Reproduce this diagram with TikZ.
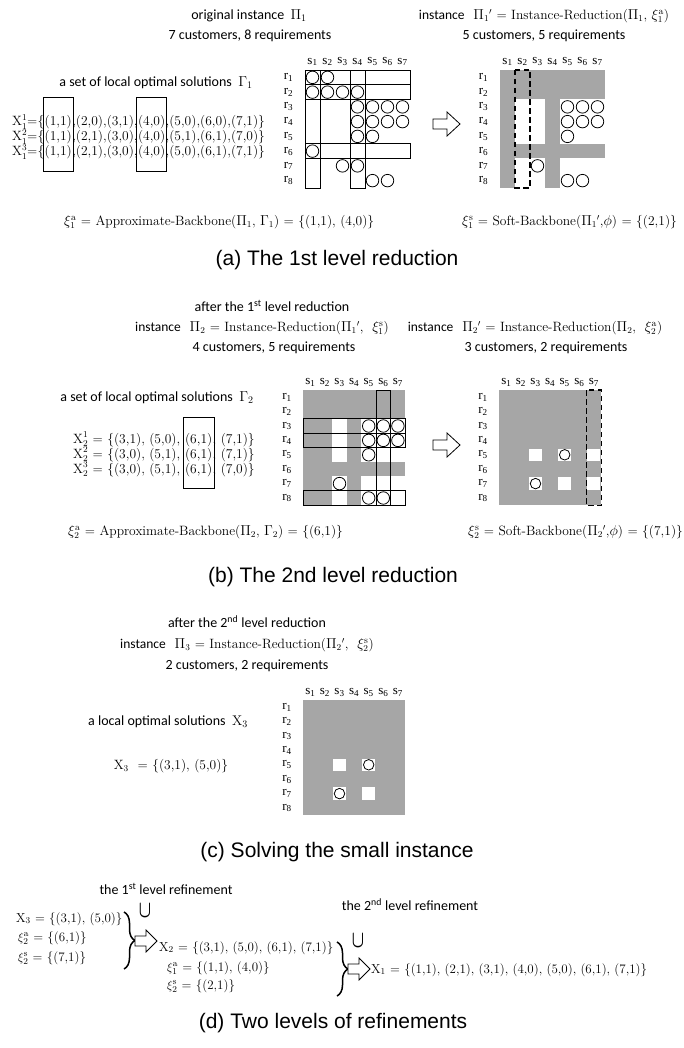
\documentclass[tikz,border=0pt]{standalone}
\usepackage{fontspec}
\usepackage{graphicx}
\usetikzlibrary{calc,decorations.pathreplacing}
\newfontfamily\carl{Carlito}
\newfontfamily\arl{Liberation Sans}
\newfontfamily\tms{Liberation Serif}
\definecolor{cellgray}{RGB}{166,166,166}
\tikzset{
  lbl/.style={font=\carl\fontsize{14}{16}\selectfont, inner sep=0pt},
  frm/.style={font=\fontsize{13.5}{16}\selectfont, inner sep=0pt},
  frd/.style={font=\fontsize{13}{15}\selectfont, inner sep=0pt},
  capt/.style={font=\arl\fontsize{21}{24}\selectfont, inner sep=0pt},
  gl/.style={font=\tms\fontsize{13}{15}\selectfont, inner sep=0pt},
  cbox/.style={draw=black, line width=0.9pt},
  dbox/.style={draw=black, line width=1.1pt, dash pattern=on 5.5pt off 3.5pt},
  circA/.style={draw=black, line width=0.8pt, circle, minimum size=12.5pt, inner sep=0pt},
  circB/.style={draw=black, line width=0.8pt, circle, minimum size=10.5pt, inner sep=0pt},
  curly/.style={draw=black, line width=1.5pt, decorate, decoration={brace, amplitude=11pt}},
  cupsym/.style={inner sep=0pt},
  blockarrow/.pic={\draw[line width=0.8pt, fill=white] (0,-5)--(14,-5)--(14,-12)--(27,0)--(14,12)--(14,5)--(0,5)--cycle;},
  smallarrow/.pic={\draw[line width=0.8pt, fill=white] (0,-5)--(11,-5)--(11,-11)--(22,0)--(11,11)--(11,5)--(0,5)--cycle;},
}
\newcommand{\gridlabels}[1]{%
  \foreach \i in {1,...,7} {\node[gl] (#1s\i) at (\i-0.5,-0.55) {s\textsubscript{\i}};}
  \foreach \j in {1,...,8} {\node[gl] (#1r\j) at (-1.1,\j-0.5) {r\textsubscript{\j}};}
}
\newcommand{\gridcircles}[3]{%
  \foreach \c/\r in {#3} {\node[#2] (#1c\c\r) at (\c-0.5,\r-0.5) {};}
}
\newcommand{\Xpart}[2]{$\mathrm{X}_{#1}^{#2}$}
\newcommand{\bigcupsym}{\scalebox{1.6}[2.4]{\boldmath$\cup$}}
\begin{document}
\begin{tikzpicture}[x=1pt, y=-1pt]
\useasboundingbox (0,0) rectangle (683,1048);
\fill[white] (0,0) rectangle (683,1048);

%% ---------------- (a) ----------------
\node[lbl] (hA1) at (249,16) {original instance\ \ $\Pi_1$};
\node[lbl] (hA2) at (250,36) {7 customers, 8 requirements};
\node[frm] (hA3) at (544,16) {{\carl instance}\ \ $\Pi_1{}'$ = Instance-Reduction($\Pi_1$, $\xi_1^{\mathrm{a}}$)};
\node[lbl] (hA4) at (544,36) {5 customers, 5 requirements};

\begin{scope}[shift={(305,70)}, x=15pt, y=-14.75pt]
  \gridlabels{gA}
  \gridcircles{gA}{circA}{1/1,2/1,1/2,2/2,3/2,4/2,4/3,5/3,6/3,7/3,4/4,5/4,6/4,7/4,4/5,5/5,1/6,3/7,4/7,5/8,6/8}
  \draw[cbox] (0,0) rectangle (7,1);
  \draw[cbox] (0,1) rectangle (7,2);
  \draw[cbox] (0,0) rectangle (1,8);
  \draw[cbox] (3,0) rectangle (4,8);
  \draw[cbox] (0,5) rectangle (7,6);
\end{scope}

\pic (arrA) at (433,124) {blockarrow};

\begin{scope}[shift={(500,70)}, x=15pt, y=-14.75pt]
  \fill[cellgray] (0,0) rectangle (7,2);
  \fill[cellgray] (0,5) rectangle (7,6);
  \fill[cellgray] (0,0) rectangle (1,8);
  \fill[cellgray] (3,0) rectangle (4,8);
  \gridlabels{gB}
  \gridcircles{gB}{circA}{5/3,6/3,7/3,5/4,6/4,7/4,5/5,3/7,5/8,6/8}
  \draw[dbox] (1,0) rectangle (2,8);
\end{scope}

\node[lbl] (solA) at (156,83) {a set of local optimal solutions\ \ $\Gamma_1$};
\node[frm, anchor=base west] (xa1p) at (12,126) {\Xpart{1}{1}=\{};
\node[frm, anchor=base west] (xa1b) at (xa1p.base east) {(1,1)};
\node[frm, anchor=base west] (xa1m) at (xa1b.base east) {,(2,0),(3,1),};
\node[frm, anchor=base west] (xa1c) at (xa1m.base east) {(4,0)};
\node[frm, anchor=base west] (xa1e) at (xa1c.base east) {,(5,0),(6,0),(7,1)\}};
\node[frm, anchor=base west] (xa2p) at (12,141) {\Xpart{1}{2}=\{};
\node[frm, anchor=base west] (xa2b) at (xa2p.base east) {(1,1)};
\node[frm, anchor=base west] (xa2m) at (xa2b.base east) {,(2,1),(3,0),};
\node[frm, anchor=base west] (xa2c) at (xa2m.base east) {(4,0)};
\node[frm, anchor=base west] (xa2e) at (xa2c.base east) {,(5,1),(6,1),(7,0)\}};
\node[frm, anchor=base west] (xa3p) at (12,156) {\Xpart{1}{3}=\{};
\node[frm, anchor=base west] (xa3b) at (xa3p.base east) {(1,1)};
\node[frm, anchor=base west] (xa3m) at (xa3b.base east) {,(2,1),(3,0),};
\node[frm, anchor=base west] (xa3c) at (xa3m.base east) {(4,0)};
\node[frm, anchor=base west] (xa3e) at (xa3c.base east) {,(5,0),(6,1),(7,1)\}};
\draw[cbox] ($(xa1b.north west)+(-1.5,-18)$) rectangle ($(xa3b.south east)+(1.5,12)$);
\draw[cbox] ($(xa1c.north west)+(-1.5,-18)$) rectangle ($(xa3c.south east)+(1.5,12)$);

\node[frm, anchor=west] (xiA) at (64,222) {$\xi_1^{\mathrm{a}}$ = Approximate-Backbone($\Pi_1$, $\Gamma_1$) = \{(1,1), (4,0)\}};
\node[frm, anchor=west] (xsA) at (462,222) {$\xi_1^{\mathrm{s}}$ = Soft-Backbone($\Pi_1{}'$,$\phi$) = \{(2,1)\}};
\node[capt] (capA) at (337,260) {(a) The 1st level reduction};

%% ---------------- (b) ----------------
\node[lbl] (hB1) at (272,306) {after the 1\textsuperscript{st} level reduction};
\node[frm] (hB2) at (262,328) {{\carl instance}\ \ $\Pi_2$ = Instance-Reduction($\Pi_1{}'$,\ \ $\xi_1^{\mathrm{s}}$)};
\node[lbl] (hB3) at (274,348) {4 customers, 5 requirements};
\node[frm] (hB4) at (535,328) {{\carl instance}\ \ $\Pi_2{}'$ = Instance-Reduction($\Pi_2$,\ \ $\xi_2^{\mathrm{a}}$)};
\node[lbl] (hB5) at (546,348) {3 customers, 2 requirements};

\begin{scope}[shift={(303,390)}, x=14.6pt, y=-14.4pt]
  \fill[cellgray] (0,0) rectangle (7,2);
  \fill[cellgray] (0,5) rectangle (7,6);
  \fill[cellgray] (0,0) rectangle (2,8);
  \fill[cellgray] (3,0) rectangle (4,8);
  \gridlabels{gC}
  \gridcircles{gC}{circA}{5/3,6/3,7/3,5/4,6/4,7/4,5/5,3/7,5/8,6/8}
  \draw[cbox] (5,0) rectangle (6,8);
  \draw[cbox] (0,2) rectangle (7,3);
  \draw[cbox] (0,3) rectangle (7,4);
  \draw[cbox] (0,7) rectangle (7,8);
\end{scope}

\pic (arrB) at (433,445) {blockarrow};

\begin{scope}[shift={(499,390)}, x=14.6pt, y=-14.4pt]
  \fill[cellgray] (0,0) rectangle (7,8);
  \foreach \c/\r in {3/5,5/5,7/5,3/7,5/7,7/7}
    {\fill[white] (\c-0.94,\r-0.93) rectangle (\c-0.06,\r-0.07);}
  \gridlabels{gD}
  \gridcircles{gD}{circB}{5/5,3/7}
  \draw[dbox] (6,0) rectangle (7,8);
\end{scope}

\node[lbl] (solB) at (157,398) {a set of local optimal solutions\ \ $\Gamma_2$};
\node[frm, anchor=base west] (xb1p) at (73,443) {\Xpart{2}{1} = \{(3,1), (5,0),};
\node[frm, anchor=base west] (xb1b) at ([xshift=4.5pt]xb1p.base east) {(6,1)};
\node[frm, anchor=base west] (xb1e) at (xb1b.base east) {, (7,1)\}};
\node[frm, anchor=base west] (xb2p) at (73,458) {\Xpart{2}{2} = \{(3,0), (5,1),};
\node[frm, anchor=base west] (xb2b) at ([xshift=4.5pt]xb2p.base east) {(6,1)};
\node[frm, anchor=base west] (xb2e) at (xb2b.base east) {, (7,1)\}};
\node[frm, anchor=base west] (xb3p) at (73,473) {\Xpart{2}{3} = \{(3,0), (5,1),};
\node[frm, anchor=base west] (xb3b) at ([xshift=4.5pt]xb3p.base east) {(6,1)};
\node[frm, anchor=base west] (xb3e) at (xb3b.base east) {, (7,0)\}};
\draw[cbox] ($(xb1b.north west)+(-1.5,-15)$) rectangle ($(xb3b.south east)+(1.5,12)$);

\node[frm, anchor=west] (xiB) at (68,532) {$\xi_2^{\mathrm{a}}$ = Approximate-Backbone($\Pi_2$, $\Gamma_2$) = \{(6,1)\}};
\node[frm, anchor=west] (xsB) at (468,532) {$\xi_2^{\mathrm{s}}$ = Soft-Backbone($\Pi_2{}'$,$\phi$) = \{(7,1)\}};
\node[capt] (capB) at (333,577) {(b) The 2nd level reduction};

%% ---------------- (c) ----------------
\node[lbl] (hC1) at (247,622) {after the 2\textsuperscript{nd} level reduction};
\node[frm] (hC2) at (247,645) {{\carl instance}\ \ $\Pi_3$ = Instance-Reduction($\Pi_2{}'$,\ \ $\xi_2^{\mathrm{s}}$)};
\node[lbl] (hC3) at (247,666) {2 customers, 2 requirements};

\begin{scope}[shift={(303,700)}, x=14.6pt, y=-14.4pt]
  \fill[cellgray] (0,0) rectangle (7,8);
  \foreach \c/\r in {3/5,5/5,3/7,5/7}
    {\fill[white] (\c-0.94,\r-0.93) rectangle (\c-0.06,\r-0.07);}
  \gridlabels{gE}
  \gridcircles{gE}{circB}{5/5,3/7}
\end{scope}

\node[lbl] (solC) at (168,722) {a local optimal solutions\ \ $\mathrm{X}_3$};
\node[frm] (xC) at (171,766) {$\mathrm{X}_3$\ \ = \{(3,1), (5,0)\}};
\node[capt] (capC) at (337,852) {(c) Solving the small instance};

%% ---------------- (d) ----------------
\node[lbl] (dT1) at (166,889) {the 1\textsuperscript{st} level refinement};
\node[lbl] (dT2) at (410,905) {the 2\textsuperscript{nd} level refinement};
\node[frd, anchor=base west] (dX3) at (16,922) {$\mathrm{X}_3$ = \{(3,1), (5,0)\}};
\node[frd, anchor=base west] (dXa2) at (18,941) {$\xi_2^{\mathrm{a}}$ = \{(6,1)\}};
\node[frd, anchor=base west] (dXs2) at (18,961) {$\xi_2^{\mathrm{s}}$ = \{(7,1)\}};
\coordinate (b1t) at (124,912);
\coordinate (b1b) at (124,969);
\draw[curly] (b1t) -- (b1b);
\node[cupsym] (u1) at (145,911) {\bigcupsym};
\pic (arrD1) at (135,941) {smallarrow};
\node[frd, anchor=base west] (dX2) at (159,951) {$\mathrm{X}_2$ = \{(3,1), (5,0), (6,1), (7,1)\}};
\node[frd, anchor=base west] (dXa1) at (167,971) {$\xi_1^{\mathrm{a}}$ = \{(1,1), (4,0)\}};
\node[frd, anchor=base west] (dXs2b) at (167,989) {$\xi_2^{\mathrm{s}}$ = \{(2,1)\}};
\coordinate (b2t) at (337,942);
\coordinate (b2b) at (337,996);
\draw[curly] (b2t) -- (b2b);
\node[cupsym] (u2) at (358,941) {\bigcupsym};
\pic (arrD2) at (348,969) {smallarrow};
\node[frd, anchor=base west] (dX1) at (371,973) {$\mathrm{X}_1$ = \{(1,1), (2,1), (3,1), (4,0), (5,0), (6,1), (7,1)\}};
\node[capt] (capD) at (333,1023) {(d) Two levels of refinements};
\end{tikzpicture}
\end{document}
